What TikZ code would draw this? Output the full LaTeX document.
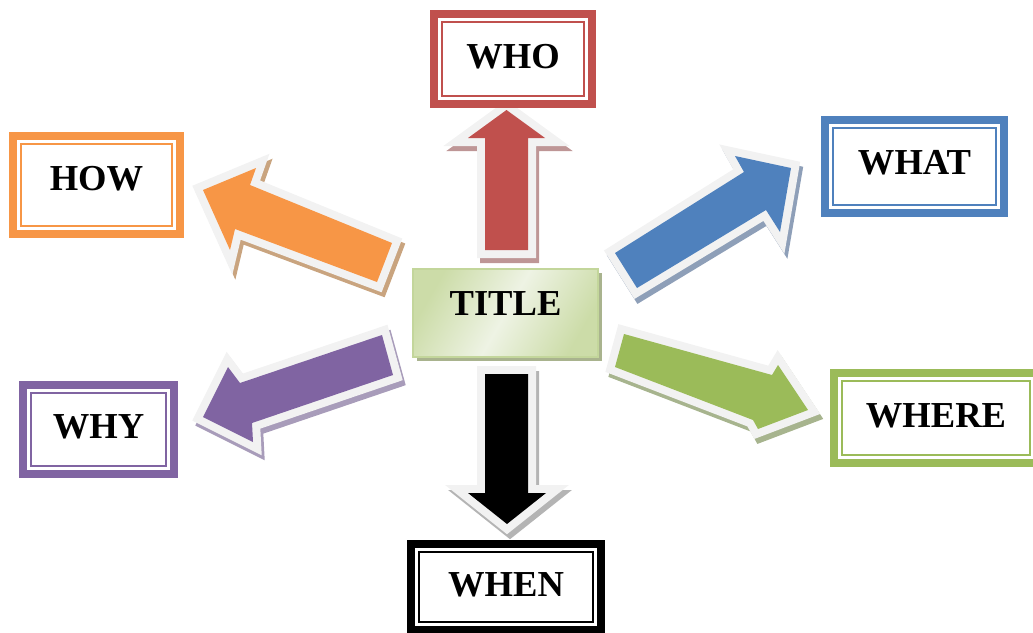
\documentclass[tikz,border=0pt]{standalone}
\usepackage{fontspec}
\setmainfont{Liberation Serif}
\usetikzlibrary{shadows}

\definecolor{cwho}{HTML}{C0504D}
\definecolor{chow}{HTML}{F79646}
\definecolor{cwhat}{HTML}{4F81BD}
\definecolor{cwhere}{HTML}{9BBB59}
\definecolor{cwhy}{HTML}{8064A2}
\definecolor{swho}{HTML}{BE9696}
\definecolor{show}{HTML}{C9A47F}
\definecolor{swhat}{HTML}{8E9FB8}
\definecolor{swhere}{HTML}{A7B48E}
\definecolor{swhy}{HTML}{A89CBA}
\definecolor{swhen}{HTML}{B4B4B4}
\definecolor{rimgray}{HTML}{F2F2F2}
\definecolor{tdark}{HTML}{CCDCA8}
\definecolor{tlight}{HTML}{EEF3E4}
\definecolor{tborder}{HTML}{C3D69B}
\definecolor{tshadow}{HTML}{A9B38E}

\tikzset{
	box/.style={draw=#1, line width=0.2cm, fill=white, inner sep=0pt, outer sep=0pt, text depth=4pt},
	rim/.style={draw=rimgray, line width=0.4cm, line join=miter},
	backing/.style={fill=#1, draw=#1, line width=0.4cm, line join=miter, shift={(3,5)}},
}

% block arrow: fill colour, shadow colour, outline
\newcommand{\blockarrow}[3]{%
	\filldraw[backing=#2] #3;
	\draw[rim] #3;
	\fill[#1] #3;
}

\begin{document}
\begin{tikzpicture}[x=0.025cm, y=-0.025cm, font=\bfseries\fontsize{26}{30}\selectfont]

	\useasboundingbox (0,0) rectangle (1033,632);

	% arrows out of the title
	\blockarrow{cwho}{swho}{(485,250) -- (485,138) -- (468,138) -- (506.5,110) -- (545,138) -- (528,138) -- (528,250) -- cycle}
	\blockarrow{chow}{show}{(392,243) -- (250,185) -- (256,168) -- (203,190) -- (230,250) -- (235,229) -- (377,282) -- cycle}
	\blockarrow{cwhat}{swhat}{(615,253) -- (744,172) -- (735,156) -- (791,168) -- (780,232) -- (766,210) -- (637,288) -- cycle}
	\blockarrow{cwhy}{swhy}{(382,335) -- (240,383) -- (228,367) -- (203,417) -- (253,442) -- (252,423) -- (393,375) -- cycle}
	\blockarrow{cwhere}{swhere}{(624,334) -- (772,375) -- (778,365) -- (808,410) -- (758,429) -- (753,420) -- (615,367) -- cycle}
	\blockarrow{black}{swhen}{(485,374) -- (528,374) -- (528,493) -- (546,493) -- (507,524) -- (468,493) -- (485,493) -- cycle}

	% title
	\node[draw=tborder, line width=0.05cm, inner sep=0pt, outer sep=0pt,
		left color=tdark, right color=tdark, middle color=tlight, shading angle=60,
		general shadow={fill=tshadow, shadow xshift=0.1cm, shadow yshift=-0.1cm},
		minimum width=4.625cm, minimum height=2.2cm, text depth=14pt] (title) at (505.5,313) {TITLE};

	% boxes
	\node[box=cwho, minimum width=3.95cm, minimum height=2.25cm] (who) at (513,59) {WHO};
	\node[box=chow, minimum width=4.175cm, minimum height=2.45cm, text depth=10pt] (how) at (96.5,185) {HOW};
	\node[box=cwhat, minimum width=4.475cm, minimum height=2.325cm, text depth=6pt] (what) at (914.5,166.5) {WHAT};
	\node[box=cwhere, minimum width=5.1cm, minimum height=2.25cm] (where) at (936,418) {WHERE};
	\node[box=cwhy, minimum width=3.775cm, minimum height=2.225cm] (why) at (98.5,429.5) {WHY};
	\node[box=black, minimum width=4.75cm, minimum height=2.15cm] (when) at (506,587) {WHEN};

	\foreach \n/\c in {who/cwho, how/chow, what/cwhat, where/cwhere, why/cwhy, when/black}
		\draw[\c, line width=0.05cm] ([shift={(8,8)}]\n.north west) rectangle ([shift={(-8,-8)}]\n.south east);

\end{tikzpicture}
\end{document}
